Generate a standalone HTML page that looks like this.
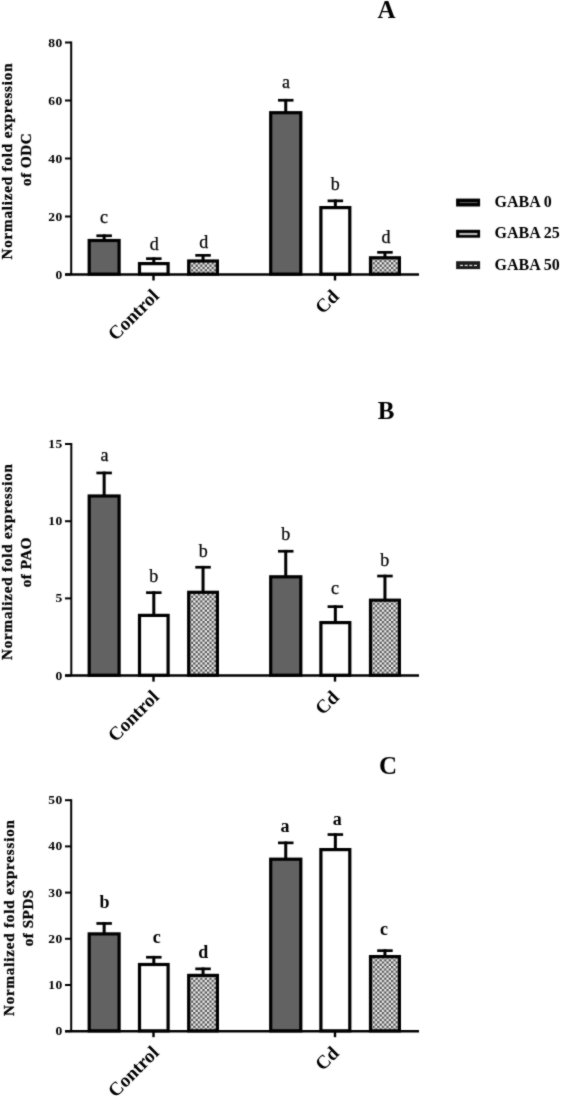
<!DOCTYPE html><html><head><meta charset="utf-8"><style>html,body{margin:0;padding:0;background:#fff;}body{width:561px;height:1098px;overflow:hidden;}svg{display:block;will-change:transform;}</style></head><body><svg width="561" height="1098" viewBox="0 0 561 1098" font-family='"Liberation Serif", serif'>
<defs><filter id="bl" x="0" y="0" width="561" height="1098" filterUnits="userSpaceOnUse" color-interpolation-filters="sRGB"><feConvolveMatrix order="3" kernelMatrix="1 2 1 2 16 2 1 2 1" edgeMode="duplicate"/></filter><pattern id="chk" width="4.6" height="4.6" patternUnits="userSpaceOnUse"><rect width="4.6" height="4.6" fill="#f2f2f2"/><rect x="0" y="0" width="2.3" height="2.3" fill="#525252"/><rect x="2.3" y="2.3" width="2.3" height="2.3" fill="#525252"/></pattern></defs>
<g filter="url(#bl)"><rect width="561" height="1098" fill="#fff"/>
<line x1="71.2" y1="41.5" x2="71.2" y2="274.5" stroke="#000" stroke-width="2"/>
<line x1="65" y1="274.5" x2="71.2" y2="274.5" stroke="#000" stroke-width="2.0"/>
<text x="62.7" y="278.5" text-anchor="end" font-size="13.5" font-weight="bold" letter-spacing="0.5">0</text>
<line x1="65" y1="216.5" x2="71.2" y2="216.5" stroke="#000" stroke-width="2.0"/>
<text x="62.7" y="220.5" text-anchor="end" font-size="13.5" font-weight="bold" letter-spacing="0.5">20</text>
<line x1="65" y1="158.5" x2="71.2" y2="158.5" stroke="#000" stroke-width="2.0"/>
<text x="62.7" y="162.5" text-anchor="end" font-size="13.5" font-weight="bold" letter-spacing="0.5">40</text>
<line x1="65" y1="100.5" x2="71.2" y2="100.5" stroke="#000" stroke-width="2.0"/>
<text x="62.7" y="104.5" text-anchor="end" font-size="13.5" font-weight="bold" letter-spacing="0.5">60</text>
<line x1="65" y1="42.5" x2="71.2" y2="42.5" stroke="#000" stroke-width="2.0"/>
<text x="62.7" y="46.5" text-anchor="end" font-size="13.5" font-weight="bold" letter-spacing="0.5">80</text>
<line x1="65" y1="274.5" x2="419" y2="274.5" stroke="#000" stroke-width="2.5"/>
<line x1="153.5" y1="274.5" x2="153.5" y2="280.5" stroke="#000" stroke-width="2.4"/>
<line x1="335" y1="274.5" x2="335" y2="280.5" stroke="#000" stroke-width="2.4"/>
<rect x="102.65" y="234.4" width="3" height="5.5" fill="#000"/>
<rect x="96.4" y="234.4" width="15.5" height="2.7" fill="#000"/>
<rect x="89.2" y="240.5" width="29.9" height="33.65" fill="#626262" stroke="#000" stroke-width="3.2"/>
<text x="104.1" y="223.4" text-anchor="middle" font-size="18" font-weight="normal" stroke="#000" stroke-width="0.25">c</text>
<rect x="152.3" y="257.3" width="3" height="5.7" fill="#000"/>
<rect x="146.05" y="257.3" width="15.5" height="2.7" fill="#000"/>
<rect x="139.5" y="263.6" width="28.6" height="10.55" fill="#ffffff" stroke="#000" stroke-width="3.2"/>
<text x="154.3" y="250.4" text-anchor="middle" font-size="18" font-weight="normal" stroke="#000" stroke-width="0.25">d</text>
<rect x="201.55" y="254" width="3" height="6.4" fill="#000"/>
<rect x="195.3" y="254" width="15.5" height="2.7" fill="#000"/>
<rect x="188.7" y="261" width="28.7" height="13.15" fill="url(#chk)" stroke="#000" stroke-width="3.2"/>
<text x="203.8" y="247.7" text-anchor="middle" font-size="18" font-weight="normal" stroke="#000" stroke-width="0.25">d</text>
<rect x="284.25" y="98.9" width="3" height="13.2" fill="#000"/>
<rect x="278" y="98.9" width="15.5" height="2.7" fill="#000"/>
<rect x="270.7" y="112.7" width="30.1" height="161.45" fill="#626262" stroke="#000" stroke-width="3.2"/>
<text x="286.1" y="87.9" text-anchor="middle" font-size="18" font-weight="normal" stroke="#000" stroke-width="0.25">a</text>
<rect x="333.85" y="199.5" width="3" height="7.5" fill="#000"/>
<rect x="327.6" y="199.5" width="15.5" height="2.7" fill="#000"/>
<rect x="320.9" y="207.6" width="28.9" height="66.55" fill="#ffffff" stroke="#000" stroke-width="3.2"/>
<text x="335.2" y="190.4" text-anchor="middle" font-size="18" font-weight="normal" stroke="#000" stroke-width="0.25">b</text>
<rect x="383.45" y="251" width="3" height="6.2" fill="#000"/>
<rect x="377.2" y="251" width="15.5" height="2.7" fill="#000"/>
<rect x="370.5" y="257.8" width="28.9" height="16.35" fill="url(#chk)" stroke="#000" stroke-width="3.2"/>
<text x="386" y="242.6" text-anchor="middle" font-size="18" font-weight="normal" stroke="#000" stroke-width="0.25">d</text>
<text x="386.5" y="17.8" text-anchor="middle" font-size="25" font-weight="bold">A</text>
<text transform="translate(12,161.05) rotate(-90)" text-anchor="middle" font-size="15" font-weight="bold" stroke="#000" stroke-width="0.3" letter-spacing="0.85">Normalized fold expression</text>
<text transform="translate(31,159.45) rotate(-90)" text-anchor="middle" font-size="15" font-weight="bold" stroke="#000" stroke-width="0.3" letter-spacing="0.6">of ODC</text>
<text transform="translate(160,297) rotate(-45)" text-anchor="end" font-size="19" font-weight="bold">Control</text>
<text transform="translate(340,297.5) rotate(-45)" text-anchor="end" font-size="19" font-weight="bold">Cd</text>
<line x1="71.3" y1="443" x2="71.3" y2="675.6" stroke="#000" stroke-width="2"/>
<line x1="65" y1="675.6" x2="71.3" y2="675.6" stroke="#000" stroke-width="2.0"/>
<text x="62.7" y="679.6" text-anchor="end" font-size="13.5" font-weight="bold" letter-spacing="0.5">0</text>
<line x1="65" y1="598.4" x2="71.3" y2="598.4" stroke="#000" stroke-width="2.0"/>
<text x="62.7" y="602.4" text-anchor="end" font-size="13.5" font-weight="bold" letter-spacing="0.5">5</text>
<line x1="65" y1="521.2" x2="71.3" y2="521.2" stroke="#000" stroke-width="2.0"/>
<text x="62.7" y="525.2" text-anchor="end" font-size="13.5" font-weight="bold" letter-spacing="0.5">10</text>
<line x1="65" y1="444" x2="71.3" y2="444" stroke="#000" stroke-width="2.0"/>
<text x="62.7" y="448" text-anchor="end" font-size="13.5" font-weight="bold" letter-spacing="0.5">15</text>
<line x1="65" y1="675.6" x2="419" y2="675.6" stroke="#000" stroke-width="2.5"/>
<line x1="153.5" y1="675.6" x2="153.5" y2="681.6" stroke="#000" stroke-width="2.4"/>
<line x1="335" y1="675.6" x2="335" y2="681.6" stroke="#000" stroke-width="2.4"/>
<rect x="102.65" y="471.6" width="3" height="23.8" fill="#000"/>
<rect x="96.4" y="471.6" width="15.5" height="2.7" fill="#000"/>
<rect x="89.2" y="496" width="29.9" height="179.25" fill="#626262" stroke="#000" stroke-width="3.2"/>
<text x="104.55" y="460.6" text-anchor="middle" font-size="18" font-weight="normal" stroke="#000" stroke-width="0.25">a</text>
<rect x="152.3" y="591.3" width="3" height="23.5" fill="#000"/>
<rect x="146.05" y="591.3" width="15.5" height="2.7" fill="#000"/>
<rect x="139.5" y="615.4" width="28.6" height="59.85" fill="#ffffff" stroke="#000" stroke-width="3.2"/>
<text x="153.7" y="581.8" text-anchor="middle" font-size="18" font-weight="normal" stroke="#000" stroke-width="0.25">b</text>
<rect x="201.55" y="565.9" width="3" height="25.8" fill="#000"/>
<rect x="195.3" y="565.9" width="15.5" height="2.7" fill="#000"/>
<rect x="188.7" y="592.3" width="28.7" height="82.95" fill="url(#chk)" stroke="#000" stroke-width="3.2"/>
<text x="203.25" y="557.4" text-anchor="middle" font-size="18" font-weight="normal" stroke="#000" stroke-width="0.25">b</text>
<rect x="284.25" y="549.9" width="3" height="26.3" fill="#000"/>
<rect x="278" y="549.9" width="15.5" height="2.7" fill="#000"/>
<rect x="270.7" y="576.8" width="30.1" height="98.45" fill="#626262" stroke="#000" stroke-width="3.2"/>
<text x="285.75" y="540.4" text-anchor="middle" font-size="18" font-weight="normal" stroke="#000" stroke-width="0.25">b</text>
<rect x="333.85" y="605.3" width="3" height="16.7" fill="#000"/>
<rect x="327.6" y="605.3" width="15.5" height="2.7" fill="#000"/>
<rect x="320.9" y="622.6" width="28.9" height="52.65" fill="#ffffff" stroke="#000" stroke-width="3.2"/>
<text x="335.1" y="594" text-anchor="middle" font-size="18" font-weight="normal" stroke="#000" stroke-width="0.25">c</text>
<rect x="383.45" y="574.7" width="3" height="24.9" fill="#000"/>
<rect x="377.2" y="574.7" width="15.5" height="2.7" fill="#000"/>
<rect x="370.5" y="600.2" width="28.9" height="75.05" fill="url(#chk)" stroke="#000" stroke-width="3.2"/>
<text x="384.7" y="565.6" text-anchor="middle" font-size="18" font-weight="normal" stroke="#000" stroke-width="0.25">b</text>
<text x="386" y="419" text-anchor="middle" font-size="25" font-weight="bold">B</text>
<text transform="translate(12,561.6) rotate(-90)" text-anchor="middle" font-size="15" font-weight="bold" stroke="#000" stroke-width="0.3" letter-spacing="0.85">Normalized fold expression</text>
<text transform="translate(31,562.1) rotate(-90)" text-anchor="middle" font-size="15" font-weight="bold" stroke="#000" stroke-width="0.3" letter-spacing="0.6">of PAO</text>
<text transform="translate(160,698.1) rotate(-45)" text-anchor="end" font-size="19" font-weight="bold">Control</text>
<text transform="translate(340,698.6) rotate(-45)" text-anchor="end" font-size="19" font-weight="bold">Cd</text>
<line x1="71.2" y1="799.2" x2="71.2" y2="1031.2" stroke="#000" stroke-width="2"/>
<line x1="65" y1="1031.2" x2="71.2" y2="1031.2" stroke="#000" stroke-width="2.0"/>
<text x="62.7" y="1035.2" text-anchor="end" font-size="13.5" font-weight="bold" letter-spacing="0.5">0</text>
<line x1="65" y1="985" x2="71.2" y2="985" stroke="#000" stroke-width="2.0"/>
<text x="62.7" y="989" text-anchor="end" font-size="13.5" font-weight="bold" letter-spacing="0.5">10</text>
<line x1="65" y1="938.8" x2="71.2" y2="938.8" stroke="#000" stroke-width="2.0"/>
<text x="62.7" y="942.8" text-anchor="end" font-size="13.5" font-weight="bold" letter-spacing="0.5">20</text>
<line x1="65" y1="892.6" x2="71.2" y2="892.6" stroke="#000" stroke-width="2.0"/>
<text x="62.7" y="896.6" text-anchor="end" font-size="13.5" font-weight="bold" letter-spacing="0.5">30</text>
<line x1="65" y1="846.4" x2="71.2" y2="846.4" stroke="#000" stroke-width="2.0"/>
<text x="62.7" y="850.4" text-anchor="end" font-size="13.5" font-weight="bold" letter-spacing="0.5">40</text>
<line x1="65" y1="800.2" x2="71.2" y2="800.2" stroke="#000" stroke-width="2.0"/>
<text x="62.7" y="804.2" text-anchor="end" font-size="13.5" font-weight="bold" letter-spacing="0.5">50</text>
<line x1="65" y1="1031.2" x2="419" y2="1031.2" stroke="#000" stroke-width="2.5"/>
<line x1="153.5" y1="1031.2" x2="153.5" y2="1037.2" stroke="#000" stroke-width="2.4"/>
<line x1="335" y1="1031.2" x2="335" y2="1037.2" stroke="#000" stroke-width="2.4"/>
<rect x="102.65" y="922.1" width="3" height="11.2" fill="#000"/>
<rect x="96.4" y="922.1" width="15.5" height="2.7" fill="#000"/>
<rect x="89.2" y="933.9" width="29.9" height="96.95" fill="#626262" stroke="#000" stroke-width="3.2"/>
<text x="104.6" y="908" text-anchor="middle" font-size="18" font-weight="bold" stroke="#000" stroke-width="0">b</text>
<rect x="152.3" y="955.9" width="3" height="8" fill="#000"/>
<rect x="146.05" y="955.9" width="15.5" height="2.7" fill="#000"/>
<rect x="139.5" y="964.5" width="28.6" height="66.35" fill="#ffffff" stroke="#000" stroke-width="3.2"/>
<text x="156.7" y="943.4" text-anchor="middle" font-size="18" font-weight="bold" stroke="#000" stroke-width="0">c</text>
<rect x="201.55" y="967.5" width="3" height="7.3" fill="#000"/>
<rect x="195.3" y="967.5" width="15.5" height="2.7" fill="#000"/>
<rect x="188.7" y="975.4" width="28.7" height="55.45" fill="url(#chk)" stroke="#000" stroke-width="3.2"/>
<text x="203.25" y="957.5" text-anchor="middle" font-size="18" font-weight="bold" stroke="#000" stroke-width="0">d</text>
<rect x="284.25" y="841.5" width="3" height="17.1" fill="#000"/>
<rect x="278" y="841.5" width="15.5" height="2.7" fill="#000"/>
<rect x="270.7" y="859.2" width="30.1" height="171.65" fill="#626262" stroke="#000" stroke-width="3.2"/>
<text x="285.1" y="831.7" text-anchor="middle" font-size="18" font-weight="bold" stroke="#000" stroke-width="0">a</text>
<rect x="333.85" y="833.2" width="3" height="15.8" fill="#000"/>
<rect x="327.6" y="833.2" width="15.5" height="2.7" fill="#000"/>
<rect x="320.9" y="849.6" width="28.9" height="181.25" fill="#ffffff" stroke="#000" stroke-width="3.2"/>
<text x="337.35" y="825.1" text-anchor="middle" font-size="18" font-weight="bold" stroke="#000" stroke-width="0">a</text>
<rect x="383.45" y="949.3" width="3" height="6.7" fill="#000"/>
<rect x="377.2" y="949.3" width="15.5" height="2.7" fill="#000"/>
<rect x="370.5" y="956.6" width="28.9" height="74.25" fill="url(#chk)" stroke="#000" stroke-width="3.2"/>
<text x="383.9" y="935.4" text-anchor="middle" font-size="18" font-weight="bold" stroke="#000" stroke-width="0">c</text>
<text x="388" y="774.4" text-anchor="middle" font-size="25" font-weight="bold">C</text>
<text transform="translate(14,917.65) rotate(-90)" text-anchor="middle" font-size="15" font-weight="bold" stroke="#000" stroke-width="0.3" letter-spacing="0.85">Normalized fold expression</text>
<text transform="translate(33,917.8) rotate(-90)" text-anchor="middle" font-size="15" font-weight="bold" stroke="#000" stroke-width="0.3" letter-spacing="0.6">of SPDS</text>
<text transform="translate(160,1053.7) rotate(-45)" text-anchor="end" font-size="19" font-weight="bold">Control</text>
<text transform="translate(340,1054.2) rotate(-45)" text-anchor="end" font-size="19" font-weight="bold">Cd</text>
<rect x="456.1" y="198.6" width="24" height="7.9" fill="#000"/>
<rect x="459.5" y="202" width="18" height="1.1" fill="#585858"/>
<text x="494.5" y="207.2" font-size="16" font-weight="bold">GABA 0</text>
<rect x="456.1" y="229.8" width="24" height="7.9" fill="#000"/>
<rect x="459.3" y="232.9" width="18.1" height="2.2" fill="#b8b8b8"/>
<text x="494.5" y="238.4" font-size="16" font-weight="bold">GABA 25</text>
<rect x="456.1" y="261.2" width="24" height="7.9" fill="#1c1c1c"/>
<rect x="460" y="264.8" width="3.0" height="1.3" fill="#e0e0e0"/>
<rect x="464.65" y="264.8" width="3.0" height="1.3" fill="#e0e0e0"/>
<rect x="469.3" y="264.8" width="3.0" height="1.3" fill="#e0e0e0"/>
<rect x="473.95" y="264.8" width="3.0" height="1.3" fill="#e0e0e0"/>
<text x="494.5" y="269.8" font-size="16" font-weight="bold">GABA 50</text>
</g></svg></body></html>
